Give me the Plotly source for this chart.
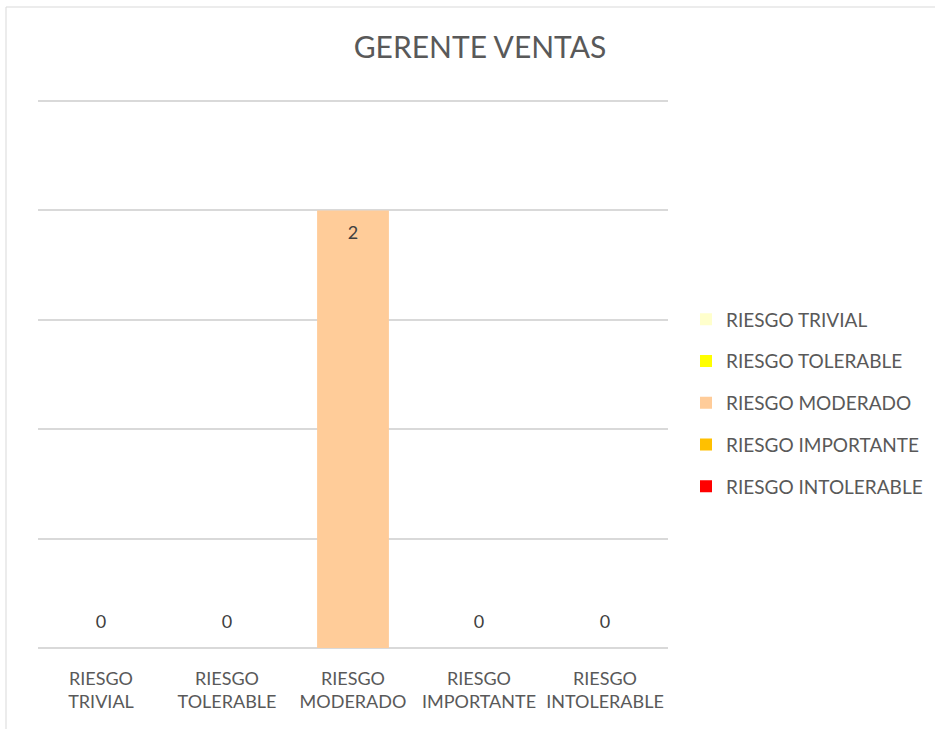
import plotly.graph_objects as go

categories = ["RIESGO TRIVIAL", "RIESGO TOLERABLE", "RIESGO MODERADO", "RIESGO IMPORTANTE", "RIESGO INTOLERABLE"]
tick_labels = ["RIESGO<br>TRIVIAL", "RIESGO<br>TOLERABLE", "RIESGO<br>MODERADO", "RIESGO<br>IMPORTANTE", "RIESGO<br>INTOLERABLE"]
values = [0, 0, 2, 0, 0]
colors = ["#FFFFCC", "#FFFF00", "#FFCC99", "#FFC000", "#FF0000"]

FONT = "Lato"
GREY = "#595959"

fig = go.Figure()
for cat, tl, v, c in zip(categories, tick_labels, values, colors):
    fig.add_trace(go.Bar(
        x=[tl], y=[v], name=cat, marker=dict(color=c, line=dict(width=0)),
        width=0.57, legendgroup=cat, hoverinfo="y+name",
    ))

# data labels: inside-end for positive bars, just above the axis for zero values
fig.add_trace(go.Scatter(
    x=tick_labels, y=values, mode="markers+text", text=[str(v) for v in values],
    textposition=["bottom center" if v > 0 else "top center" for v in values],
    marker=dict(size=23, color="rgba(0,0,0,0)"),
    textfont=dict(family=FONT, size=18, color="#404040"),
    showlegend=False, hoverinfo="skip", cliponaxis=False,
))

fig.update_layout(
    width=935, height=729,
    margin=dict(l=38, r=267, t=100, b=81, autoexpand=False),
    paper_bgcolor="white", plot_bgcolor="white",
    barmode="overlay",
    title=dict(text="GERENTE VENTAS", x=480 / 935, xanchor="center",
               y=1 - 47 / 729, yanchor="middle",
               font=dict(family=FONT, size=30, color=GREY)),
    font=dict(family=FONT, color=GREY),
    showlegend=True,
    legend=dict(x=(686 - 38) / 630, xanchor="left", y=(648 - 403) / 548, yanchor="middle",
                font=dict(family=FONT, size=19, color=GREY),
                traceorder="grouped", tracegroupgap=14, itemwidth=30,
                bgcolor="rgba(0,0,0,0)"),
    xaxis=dict(categoryorder="array", categoryarray=tick_labels, showgrid=False,
               tickfont=dict(family=FONT, size=18, color=GREY), ticks="",
               ticklabelstandoff=18, showline=False, zeroline=False),
    yaxis=dict(range=[0, 2.505], dtick=0.5, showticklabels=False, showgrid=True,
               gridcolor="#D9D9D9", gridwidth=1.5, zeroline=True, zerolinecolor="#D9D9D9",
               zerolinewidth=1.5, ticks="", showline=False),
    shapes=[dict(type="rect", xref="paper", yref="paper",
                 x0=(6 - 38) / 630, x1=2, y0=-1, y1=(648 - 7) / 548,
                 line=dict(color="#D9D9D9", width=1), fillcolor="rgba(0,0,0,0)", layer="below")],
)

fig.write_html("out.html", config={"displayModeBar": False},
               post_script="document.body.style.margin='0px';")
